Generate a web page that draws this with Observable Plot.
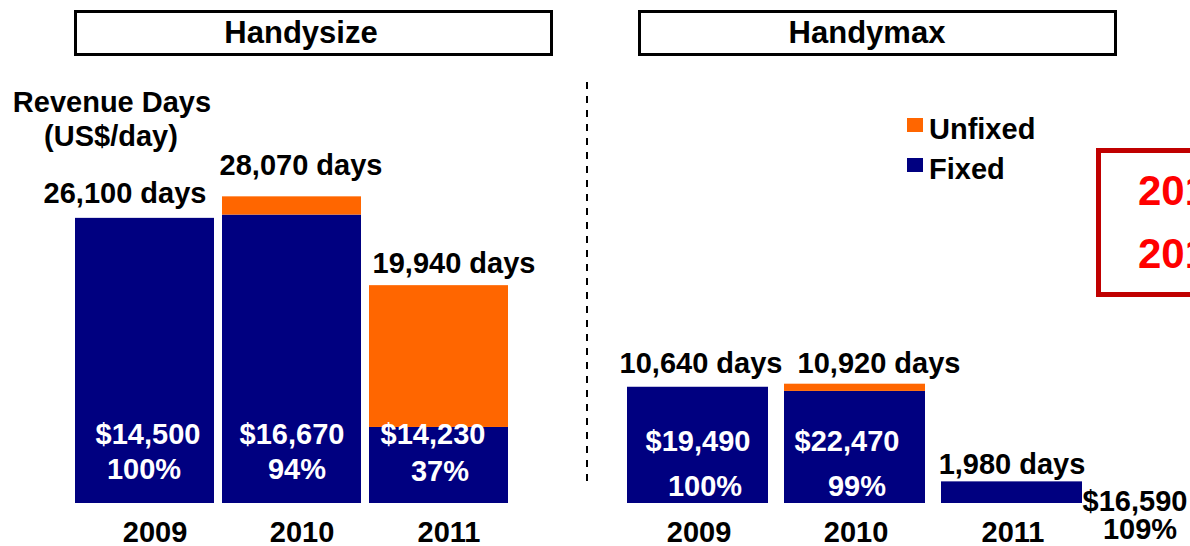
<!DOCTYPE html>
<html><head><meta charset="utf-8">
<script src="https://cdn.jsdelivr.net/npm/d3@7"></script>
<script src="https://cdn.jsdelivr.net/npm/@observablehq/plot@0.6"></script>
<style>
html,body{margin:0;padding:0;background:#fff;}
#chart{position:relative;width:1190px;height:546px;overflow:hidden;font-family:"Liberation Sans",Arial,sans-serif;font-weight:bold;}
#chart svg{position:absolute;left:0;top:0;}
</style></head><body><div id="chart"></div>
<script>
// ---- data ----
const years = ["2009", "2010", "2011"];
const handysizeDays = [26100, 28070, 19940];
const handysizeFixed = [26100, 26400, 6960];
const handysizeRate = ["$14,500", "$16,670", "$14,230"];
const handysizeShare = ["100%", "94%", "37%"];
const handymaxDays = [10640, 10920, 1980];
const handymaxFixed = [10640, 10260, 1980];
const handymaxRate = ["$19,490", "$22,470", "$16,590"];
const handymaxShare = ["100%", "99%", "109%"];
const segments = ["Fixed", "Unfixed"];
const segmentColors = ["#000080", "#FF6600"];
const panelTitles = ["Handysize", "Handymax"];
const axisTitle = ["Revenue Days", "(US$/day)"];
const legendOrder = ["Unfixed", "Fixed"];
const noteLines = ["201", "201"];

const FONT = '"Liberation Sans", Arial, sans-serif';
const FS = 29;
const chart = document.getElementById("chart");

function panel(o) {
  const bars = years.flatMap((yr, i) => [
    {year: yr, type: "Fixed", value: o.fixed[i]},
    {year: yr, type: "Unfixed", value: o.days[i] - o.fixed[i]}
  ]);
  const rows = years.map((yr, i) => ({
    year: yr, days: o.days[i],
    label: d3.format(",")(o.days[i]) + " days",
    rate: o.rate[i], share: o.share[i]
  }));
  const t = {lineAnchor: "bottom", textAnchor: "middle", fontSize: FS, fontWeight: "bold"};
  const marks = [Plot.barY(bars, {x: "year", y: "value", fill: "type"})];
  rows.forEach((r, i) => {
    marks.push(Plot.text([r], {...t, x: "year", y: "days", text: "label", dx: o.dayDx[i], dy: o.dayDy[i], fill: "black"}));
    marks.push(Plot.text([r], {...t, x: "year", y: () => 0, text: "rate", dx: o.rateDx[i], dy: o.rateDy[i], fill: o.inFill[i]}));
    marks.push(Plot.text([r], {...t, x: "year", y: () => 0, text: "share", dx: o.shareDx[i], dy: o.shareDy[i], fill: o.inFill[i]}));
    marks.push(Plot.text([r], {...t, x: "year", y: () => 0, text: "year", dx: o.yearDx, dy: 38, fill: "black"}));
  });
  return Plot.plot({
    width: 1190, height: 546, margin: 0,
    x: {type: "band", domain: years, range: o.xRange, paddingInner: o.pad, paddingOuter: 0, axis: null},
    y: {domain: [0, 40000], range: [503, 66], axis: null},
    color: {domain: segments, range: segmentColors},
    style: {background: "transparent", overflow: "visible", fontFamily: FONT, fontWeight: "bold", fontSize: FS + "px"},
    marks
  });
}

chart.appendChild(panel({
  days: handysizeDays, fixed: handysizeFixed, rate: handysizeRate, share: handysizeShare,
  xRange: [75, 508], pad: 0.055,
  dayDx: [-20, 9, 15], dayDy: [-15, -22, -13],
  rateDx: [3, 0, -6], rateDy: [-60, -60, -60],
  shareDx: [-1, 5, 1], shareDy: [-25, -25, -23],
  inFill: ["white", "white", "white"], yearDx: 10
}));
chart.appendChild(panel({
  days: handymaxDays, fixed: handymaxFixed, rate: handymaxRate, share: handymaxShare,
  xRange: [627, 1083], pad: 0.1,
  dayDx: [3, 24, 0], dayDy: [-14, -11, -8],
  rateDx: [0, -8, 123], rateDy: [-53, -53, 7],
  shareDx: [7, 2, 128], shareDy: [-8, -8, 35],
  inFill: ["white", "white", "black"], yearDx: 1
}));

// ---- decorations: titles, legend, divider, note box ----
const svg = d3.select(chart).append("svg")
  .attr("width", 1190).attr("height", 546)
  .style("font-family", FONT).style("font-weight", "bold");

const boxes = [{x: 75.5, w: 476, tx: 301}, {x: 639.5, w: 476, tx: 867}];
panelTitles.forEach((title, i) => {
  const b = boxes[i];
  svg.append("rect").attr("x", b.x).attr("y", 11.5).attr("width", b.w).attr("height", 43)
    .attr("fill", "white").attr("stroke", "black").attr("stroke-width", 3);
  svg.append("text").attr("x", b.tx).attr("y", 43).attr("text-anchor", "middle")
    .attr("font-size", 31).text(title);
});

svg.append("text").attr("x", 112).attr("y", 112).attr("text-anchor", "middle").attr("font-size", FS).text(axisTitle[0]);
svg.append("text").attr("x", 111).attr("y", 146).attr("text-anchor", "middle").attr("font-size", FS).text(axisTitle[1]);

svg.append("line").attr("x1", 587).attr("x2", 587).attr("y1", 82).attr("y2", 482)
  .attr("stroke", "black").attr("stroke-width", 2).attr("stroke-dasharray", "7,7");

legendOrder.forEach((name, i) => {
  const y = 118 + i * 40;
  svg.append("rect").attr("x", 907).attr("y", y).attr("width", 16).attr("height", 14)
    .attr("fill", segmentColors[segments.indexOf(name)]);
  svg.append("text").attr("x", 929).attr("y", y + 21).attr("font-size", FS).text(name);
});

svg.append("rect").attr("x", 1098.5).attr("y", 150.5).attr("width", 150).attr("height", 144)
  .attr("fill", "white").attr("stroke", "#C00000").attr("stroke-width", 5);
noteLines.forEach((s, i) => {
  svg.append("text").attr("x", 1138).attr("y", 205 + i * 63).attr("font-size", 42)
    .attr("fill", "#FF0000").text(s);
});
</script>
</body></html>
